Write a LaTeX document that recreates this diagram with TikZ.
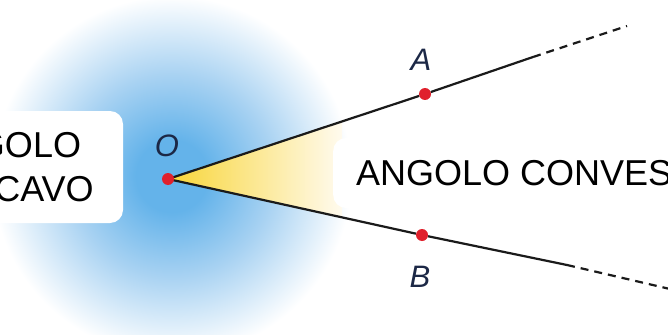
\documentclass[tikz,border=0pt]{standalone}
\usepackage{fontspec}
\setmainfont{Liberation Sans}
\definecolor{ink}{HTML}{1C2846}
\definecolor{sky}{HTML}{64B3EA}
\definecolor{haze}{HTML}{A8D2F2}
\definecolor{gold}{HTML}{F8D537}
\definecolor{cream}{HTML}{FFF4D6}
\definecolor{dot}{HTML}{E0202C}
\definecolor{ray}{HTML}{1A1A1A}
\pgfdeclareradialshading{glow}{\pgfpoint{0bp}{0bp}}{color(0bp)=(sky);color(5bp)=(sky);color(14bp)=(haze);color(25bp)=(white);color(50bp)=(white)}

\begin{document}
\begin{tikzpicture}[
  x=1pt,y=-1pt,
  point/.style={circle,fill=dot,inner sep=0pt,minimum size=12pt},
  letter/.style={text=ink,font=\fontsize{31}{31}\selectfont\itshape},
  side/.style={draw=ray,line width=2.2pt},
  dashside/.style={side,dash pattern=on 8pt off 6pt},
  box/.style={fill=white,rounded corners=13pt,font=\fontsize{36}{44}\selectfont}
]
  \path[use as bounding box,clip] (0,0) rectangle (668,334);
  \fill[white] (0,0) rectangle (668,334);
  \shade[shading=glow] (172,176) circle (180);

  \coordinate (O) at (168,179);
  \coordinate (wa) at (342,121.4);
  \coordinate (wb) at (342,217.3);
  \shade[left color=gold,middle color=gold!55!cream,right color=cream!40!white]
    (O) -- (wa) -- (wb) -- cycle;

  \node[point] (A) at (425,94) {};
  \node[point] (B) at (422,235) {};
  \coordinate (aend) at (533,57);
  \coordinate (afar) at (627,26);
  \coordinate (bend) at (567,265);
  \coordinate (bfar) at (670,289);

  \draw[side] (O) -- (A) -- (aend);
  \draw[dashside] (aend) -- (afar);
  \draw[side] (O) -- (B) -- (bend);
  \draw[dashside] (bend) -- (bfar);
  \node[point] (o) at (O) {};

  \node[letter] (lo) at (167,146) {O};
  \node[letter] (la) at (421,60) {A};
  \node[letter] (lb) at (420,277) {B};

  \node[box,minimum width=238pt,minimum height=112pt,align=center]
    (concavo) at (4,167) {ANGOLO\\CONCAVO};
  \node[box,anchor=west,minimum height=70pt,inner xsep=23pt]
    (convesso) at (333,173) {ANGOLO CONVESSO};
\end{tikzpicture}
\end{document}
